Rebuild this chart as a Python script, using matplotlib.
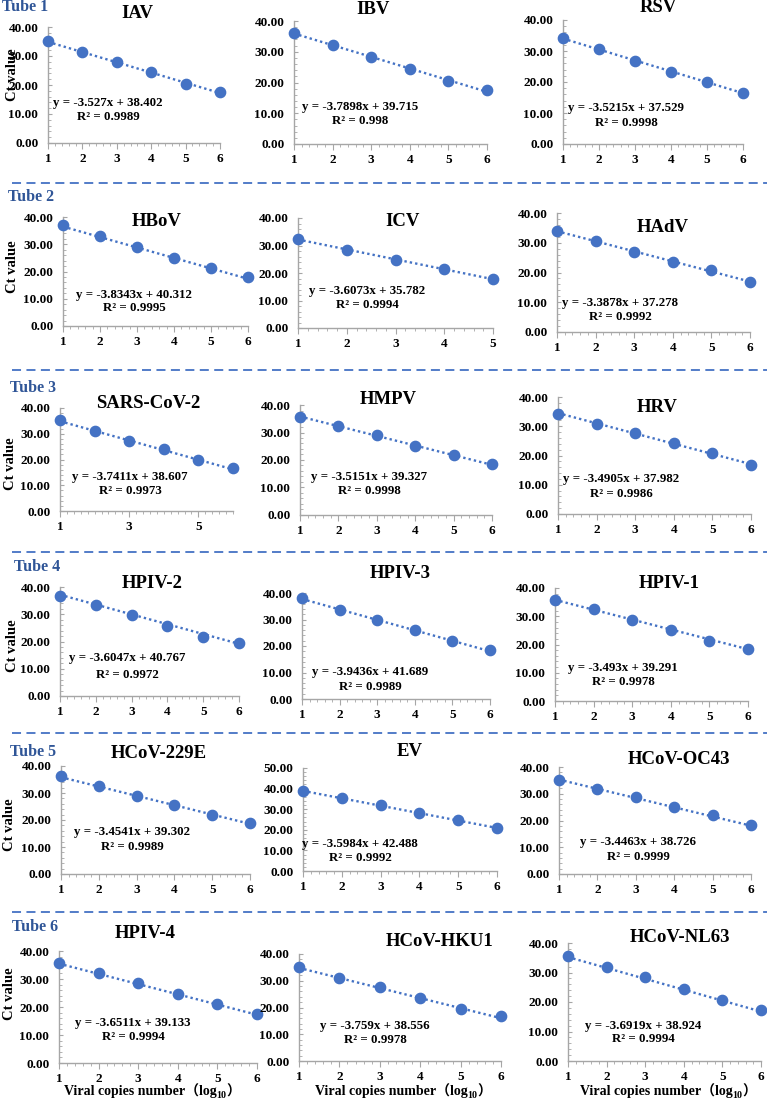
import matplotlib
matplotlib.use('Agg')
import matplotlib.pyplot as plt
from matplotlib.ticker import MultipleLocator, FixedLocator, FormatStrFormatter
from matplotlib.lines import Line2D
import numpy as np

plt.rcParams['font.family'] = ['Liberation Serif', 'Noto Sans CJK SC']
plt.rcParams['font.weight'] = 'bold'

# ---------------- data ----------------
virus_names = ["IAV", "IBV", "RSV",
               "HBoV", "ICV", "HAdV",
               "SARS-CoV-2", "HMPV", "HRV",
               "HPIV-2", "HPIV-3", "HPIV-1",
               "HCoV-229E", "EV", "HCoV-OC43",
               "HPIV-4", "HCoV-HKU1", "HCoV-NL63"]
tube_labels = ["Tube 1", "Tube 2", "Tube 3", "Tube 4", "Tube 5", "Tube 6"]

iav_ct = [35.0, 31.3, 27.9, 24.4, 20.5, 17.6]
ibv_ct = [36.2, 32.1, 28.4, 24.4, 20.5, 17.6]
rsv_ct = [34.1, 30.5, 26.9, 23.3, 19.9, 16.3]
hbov_ct = [37.1, 32.9, 28.9, 25.0, 21.2, 17.9]
icv_ct = [32.3, 28.4, 24.6, 21.3, 17.7]
hadv_ct = [33.8, 30.5, 27.0, 23.5, 20.7, 16.7]
sars_ct = [35.2, 31.0, 27.1, 23.9, 19.7, 16.6]
hmpv_ct = [35.5, 32.2, 29.0, 25.2, 21.7, 18.4]
hrv_ct = [34.3, 30.6, 27.7, 24.3, 20.8, 16.8]
hpiv2_ct = [36.8, 33.4, 29.7, 25.8, 21.8, 19.3]
hpiv3_ct = [38.2, 33.6, 29.9, 25.9, 22.0, 18.5]
hpiv1_ct = [35.6, 32.5, 28.8, 25.1, 21.3, 18.5]
hcov229e_ct = [36.3, 32.5, 29.0, 25.6, 22.0, 18.8]
ev_ct = [38.9, 35.3, 32.2, 28.2, 24.6, 21.0]
hcovoc43_ct = [35.3, 31.9, 28.6, 25.2, 21.9, 18.4]
hpiv4_ct = [35.6, 32.2, 28.7, 24.6, 21.0, 17.6]
hcovhku1_ct = [35.0, 30.9, 27.8, 23.4, 19.6, 16.9]
hcovnl63_ct = [35.5, 31.9, 28.4, 24.3, 20.6, 17.3]

ct_values = [iav_ct, ibv_ct, rsv_ct, hbov_ct, icv_ct, hadv_ct,
             sars_ct, hmpv_ct, hrv_ct, hpiv2_ct, hpiv3_ct, hpiv1_ct,
             hcov229e_ct, ev_ct, hcovoc43_ct, hpiv4_ct, hcovhku1_ct, hcovnl63_ct]

slopes = [-3.527, -3.7898, -3.5215, -3.8343, -3.6073, -3.3878,
          -3.7411, -3.5151, -3.4905, -3.6047, -3.9436, -3.493,
          -3.4541, -3.5984, -3.4463, -3.6511, -3.759, -3.6919]
intercepts = [38.402, 39.715, 37.529, 40.312, 35.782, 37.278,
              38.607, 39.327, 37.982, 40.767, 41.689, 39.291,
              39.302, 42.488, 38.726, 39.133, 38.556, 38.924]
r_squared = ["0.9989", "0.998", "0.9998", "0.9995", "0.9994", "0.9992",
             "0.9973", "0.9998", "0.9986", "0.9972", "0.9989", "0.9978",
             "0.9989", "0.9992", "0.9999", "0.9994", "0.9978", "0.9994"]
y_max = [40, 40, 40, 40, 40, 40, 40, 40, 40, 40, 40, 40, 40, 50, 40, 40, 40, 40]
x_tick_step = [1, 1, 1, 1, 1, 1, 2, 1, 1, 1, 1, 1, 1, 1, 1, 1, 1, 1]
x_label_main = "Viral copies number（log"
x_label_sub = "10"
x_label_close = "）"

# ---------------- layout (pixels) ----------------
W, H = 767, 1099
boxes = [(48, 220, 27, 143), (294, 487, 21, 144), (563, 743, 20, 144),
         (63, 248, 217, 326), (298, 493, 218, 328), (557, 750, 213, 332),
         (60, 233, 408, 511), (300, 492, 405, 515), (558, 751, 397, 514),
         (60, 239, 587, 696), (302, 490, 593, 699), (555, 748, 588, 701),
         (61, 250, 766, 874), (303, 497, 768, 871), (559, 751, 767, 874),
         (59, 257, 951, 1063), (299, 501, 954, 1061), (568, 761, 943, 1061)]
title_pos = [(137, 13), (373, 10), (658, 8),
             (157, 222), (403, 222), (663, 227),
             (148, 403), (388, 400), (657, 407),
             (152, 583), (400, 573), (669, 583),
             (159, 753), (410, 751), (679, 760),
             (145, 933), (440, 942), (680, 937)]
eq_pos = [(108, 103, 117), (360, 107, 121), (626, 108, 123),
          (134, 295, 308), (367, 291, 305), (620, 303, 317),
          (130, 477, 491), (369, 477, 491), (621, 479, 494),
          (127, 658, 675), (370, 672, 687), (623, 668, 682),
          (132, 832, 847), (360, 844, 858), (638, 842, 857),
          (133, 1023, 1037), (375, 1026, 1040), (643, 1026, 1039)]
tube_pos = [(2, 7), (8, 197), (10, 388), (14, 567), (10, 752), (12, 927)]
ylabel_pos = [(12, 75), (12, 267), (11, 464), (12, 646), (10, 825), (10, 994)]
sep_y = [183, 370, 552, 733, 912]
xlabel_cx = [152, 403, 668]

blue = '#4472C4'
tube_color = '#2F5597'
spine_color = '#A6A6A6'

fig = plt.figure(figsize=(W / 100, H / 100), dpi=100)


def fx(px):
    return px / W


def fy(py):
    return 1 - py / H


for i, name in enumerate(virus_names):
    ct = ct_values[i]
    n = len(ct)
    x = np.arange(1, n + 1)
    x1, xn, yt, y0 = boxes[i]
    ax = fig.add_axes([fx(x1), fy(y0), (xn - x1) / W, (y0 - yt) / H])
    ax.set_xlim(1, n)
    ax.set_ylim(0, y_max[i])
    xs = np.array([1, n])
    ax.plot(xs, slopes[i] * xs + intercepts[i], linestyle=(0, (1, 1.3)),
            lw=1.7, color=blue, zorder=2, clip_on=False)
    ax.plot(x, ct, 'o', color=blue, ms=7.4, mec=blue, zorder=3, clip_on=False)
    for s in ['top', 'right']:
        ax.spines[s].set_visible(False)
    for s in ['left', 'bottom']:
        ax.spines[s].set_color(spine_color)
        ax.spines[s].set_linewidth(1.0)
    ax.xaxis.set_major_locator(FixedLocator(np.arange(1, n + 1, x_tick_step[i])))
    ax.xaxis.set_minor_locator(MultipleLocator(0.2))
    ax.yaxis.set_major_locator(MultipleLocator(10))
    ax.yaxis.set_minor_locator(MultipleLocator(2))
    ax.yaxis.set_major_formatter(FormatStrFormatter('%.2f'))
    ax.tick_params(axis='x', which='major', length=4, direction='out',
                   color=spine_color, labelsize=9.5, pad=3)
    ax.tick_params(axis='x', which='minor', length=2.5, direction='out',
                   color=spine_color)
    ax.tick_params(axis='y', which='major', length=3, direction='in',
                   color=spine_color, labelsize=9.5, pad=7)
    ax.tick_params(axis='y', which='minor', length=2, direction='in',
                   color=spine_color)
    for lab in ax.get_xticklabels() + ax.get_yticklabels():
        lab.set_fontweight('bold')
    ax.patch.set_alpha(0)

    tx, ty = title_pos[i]
    fig.text(fx(tx), fy(ty), name, ha='center', va='center',
             fontsize=13.5, fontweight='bold')
    ex, e1, e2 = eq_pos[i]
    fig.text(fx(ex), fy(e1), f"y = {slopes[i]}x + {intercepts[i]}",
             ha='center', va='center', fontsize=9.3, fontweight='bold')
    fig.text(fx(ex), fy(e2), f"R² = {r_squared[i]}",
             ha='center', va='center', fontsize=9.3, fontweight='bold')

for k, lab in enumerate(tube_labels):
    tx, ty = tube_pos[k]
    fig.text(fx(tx), fy(ty), lab, ha='left', va='center', fontsize=11.5,
             fontweight='bold', color=tube_color)
    lx, ly = ylabel_pos[k]
    fig.text(fx(lx), fy(ly), "Ct value", ha='center', va='center',
             rotation=90, fontsize=10.5, fontweight='bold')

for ys in sep_y:
    fig.add_artist(Line2D([fx(12), 1.0], [fy(ys), fy(ys)], color=blue,
                          lw=1.3, linestyle=(0, (5, 3))))

# x-axis label (three pieces so the CJK parentheses and subscript both render)
fig.canvas.draw()
renderer = fig.canvas.get_renderer()
for cx in xlabel_cx:
    t1 = fig.text(0, fy(1095.5), x_label_main, ha='left', va='baseline',
                  fontsize=10, fontweight='bold')
    t2 = fig.text(0, fy(1098), x_label_sub, ha='left', va='baseline',
                  fontsize=7.2, fontweight='bold')
    t3 = fig.text(0, fy(1095.5), x_label_close, ha='left', va='baseline',
                  fontsize=10, fontweight='bold')
    w1 = t1.get_window_extent(renderer).width
    w2 = t2.get_window_extent(renderer).width
    w3 = t3.get_window_extent(renderer).width
    start = cx - (w1 + w2 + w3) / 2
    t1.set_x(fx(start))
    t2.set_x(fx(start + w1))
    t3.set_x(fx(start + w1 + w2))

fig.savefig('out.png', dpi=100)
